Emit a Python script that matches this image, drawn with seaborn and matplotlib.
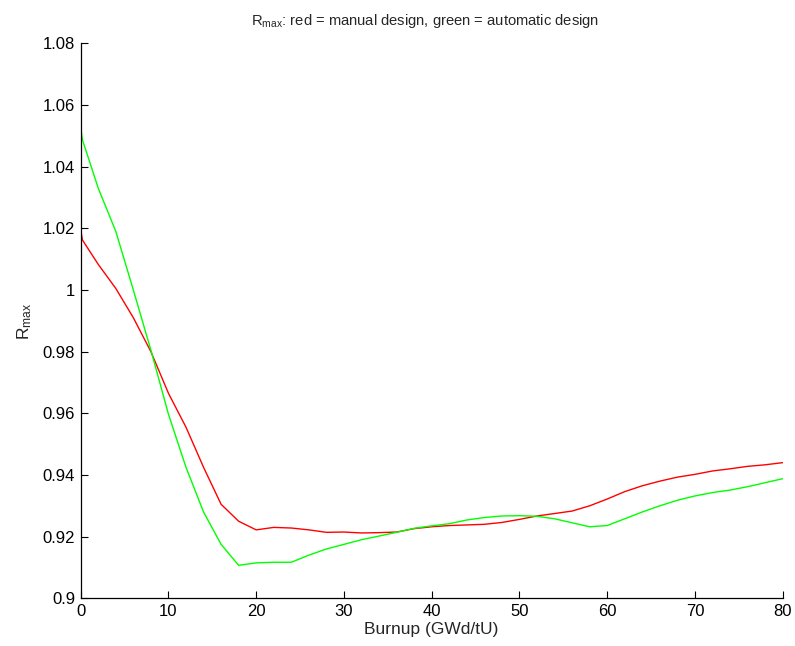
import numpy as np
import pandas as pd
import matplotlib
matplotlib.use("Agg")
import matplotlib.pyplot as plt
import seaborn as sns
from matplotlib.ticker import FuncFormatter

burnup = [0, 0.2, 2, 4, 6, 8, 10, 12, 14, 16, 18, 20, 22, 24, 26, 28, 30, 32, 34, 36, 38, 40,
          42, 44, 46, 48, 50, 52, 54, 56, 58, 60, 62, 64, 66, 68, 70, 72, 74, 76, 78, 80]
rmax_manual = [1.0195, 1.0162, 1.0083, 1.0005, 0.9910, 0.9800, 0.9665, 0.9555, 0.9425, 0.9305,
               0.9250, 0.9222, 0.9230, 0.9228, 0.9222, 0.9214, 0.9215, 0.9212, 0.9213, 0.9215,
               0.9226, 0.9232, 0.9236, 0.9238, 0.9240, 0.9246, 0.9256, 0.9267, 0.9275, 0.9283,
               0.9300, 0.9322, 0.9346, 0.9365, 0.9380, 0.9393, 0.9402, 0.9413, 0.9420, 0.9428,
               0.9433, 0.9440]
rmax_auto = [1.0528, 1.0487, 1.0330, 1.0190, 1.0000, 0.9805, 0.9597, 0.9425, 0.9280, 0.9175,
             0.9107, 0.9115, 0.9117, 0.9117, 0.9140, 0.9160, 0.9175, 0.9190, 0.9202, 0.9214,
             0.9227, 0.9235, 0.9242, 0.9254, 0.9262, 0.9267, 0.9268, 0.9266, 0.9258, 0.9245,
             0.9232, 0.9236, 0.9258, 0.9280, 0.9300, 0.9318, 0.9332, 0.9343, 0.9351, 0.9362,
             0.9375, 0.9388]
series_names = ["manual design", "automatic design"]
x_ticks = [0, 10, 20, 30, 40, 50, 60, 70, 80]
y_ticks = [0.9, 0.92, 0.94, 0.96, 0.98, 1.0, 1.02, 1.04, 1.06, 1.08]

df = pd.concat([
    pd.DataFrame({"burnup": burnup, "rmax": rmax_manual, "design": series_names[0]}),
    pd.DataFrame({"burnup": burnup, "rmax": rmax_auto, "design": series_names[1]}),
])

sns.set_style("ticks")
plt.rcParams["font.family"] = ["Liberation Sans", "DejaVu Sans"]
plt.rcParams["mathtext.default"] = "regular"
plt.rcParams["xtick.direction"] = "in"
plt.rcParams["ytick.direction"] = "in"

fig = plt.figure(figsize=(7.95, 6.46), dpi=100)
ax = fig.add_axes([0.1015, 0.0738, 0.883, 0.8592])
sns.lineplot(data=df, x="burnup", y="rmax", hue="design",
             palette={series_names[0]: "#ff0000", series_names[1]: "#00ff00"},
             linewidth=1.0, legend=False, ax=ax, sort=False)

ax.set_xlim(0, 80)
ax.set_ylim(0.9, 1.08)
ax.set_xticks(x_ticks)
ax.set_yticks(y_ticks)
ax.yaxis.set_major_formatter(FuncFormatter(lambda v, p: "%g" % round(v, 4)))
ax.tick_params(axis="both", labelsize=12, length=5, width=0.8, colors="black", pad=4)
for s in ["top", "right"]:
    ax.spines[s].set_visible(False)
for s in ["left", "bottom"]:
    ax.spines[s].set_linewidth(0.9)
    ax.spines[s].set_color("black")

ax.set_xlabel("Burnup (GWd/tU)", fontsize=12.5, labelpad=2)
ax.set_ylabel("R$_{max}$", fontsize=12.5, labelpad=6)
ax.set_title("R$_{max}$: red = manual design, green = automatic design",
             fontsize=10.6, pad=13, x=0.49)

fig.savefig("out.png", dpi=100)
